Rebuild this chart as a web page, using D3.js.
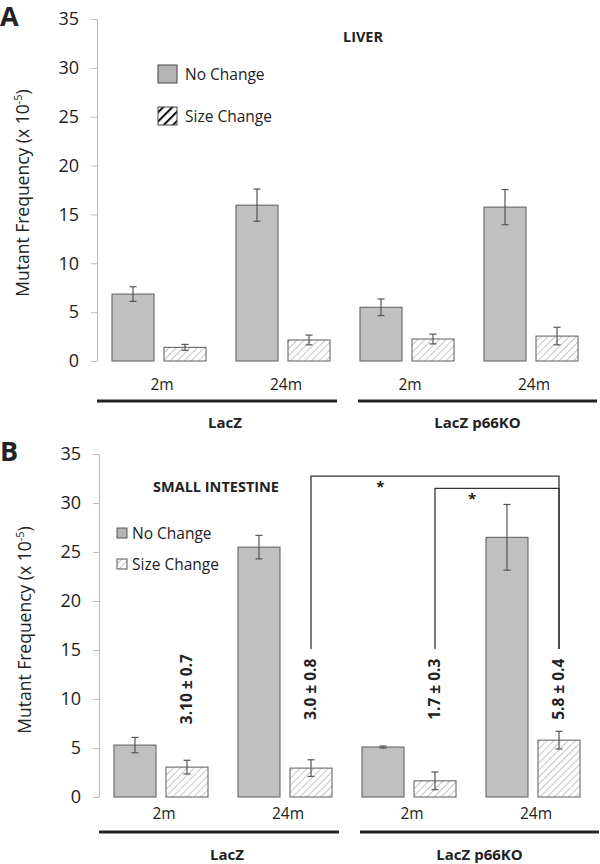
<!DOCTYPE html>
<html>
<head>
<meta charset="UTF-8">
<title>Mutant frequency</title>
<style>
  body { margin: 0; background: #fff; }
  text { font-family: "Open Sans", sans-serif; fill: #222; }
</style>
<script src="https://d3js.org/d3.v7.min.js"></script>
</head>
<body>
<script>
// ---- data ----
var groups = ["LacZ", "LacZ p66KO"];
var clusters = ["LacZ 2m", "LacZ 24m", "p66KO 2m", "p66KO 24m"];
var ages = ["2m", "24m", "2m", "24m"];
var series = ["No Change", "Size Change"];
var yTicks = [0, 5, 10, 15, 20, 25, 30, 35];

var liverNoChange = [6.85, 15.95, 5.5, 15.75];
var liverNoChangeErr = [0.75, 1.65, 0.85, 1.8];
var liverSizeChange = [1.4, 2.15, 2.25, 2.55];
var liverSizeChangeErr = [0.3, 0.5, 0.5, 0.9];

var intNoChange = [5.3, 25.5, 5.1, 26.5];
var intNoChangeErr = [0.78, 1.2, 0.1, 3.35];
var intSizeChange = [3.05, 2.95, 1.65, 5.8];
var intSizeChangeErr = [0.7, 0.85, 0.9, 0.9];
var intLabels = ["3.10 \u00b1 0.7", "3.0 \u00b1 0.8", "1.7 \u00b1 0.3", "5.8 \u00b1 0.4"];

// significance brackets: from cluster, to cluster, top value, foot value, star position along bracket
var brackets = [
  {from: 1, to: 3, top: 32.75, foot: 15.1, star: 0.28},
  {from: 2, to: 3, top: 31.5, foot: 15.1, star: 0.3}
];

var W = 600, H = 864;
var svg = d3.select("body").append("svg")
  .attr("width", W).attr("height", H);

var defs = svg.append("defs");
function hatch(id, color, width, gap) {
  var p = defs.append("pattern")
    .attr("id", id)
    .attr("patternUnits", "userSpaceOnUse")
    .attr("width", gap).attr("height", gap)
    .attr("patternTransform", "rotate(45)");
  p.append("rect").attr("width", gap).attr("height", gap).attr("fill", "#fff");
  p.append("line")
    .attr("x1", 0).attr("y1", 0).attr("x2", 0).attr("y2", gap)
    .attr("stroke", color).attr("stroke-width", width);
}
hatch("hatchLight", "#8a8a8a", 1, 5);
hatch("hatchBold", "#111", 4, 6.5);

function drawPanel(cfg) {
  var g = svg.append("g");
  var y = d3.scaleLinear().domain([0, 35]).range([cfg.y0, cfg.y35]);
  var outer = d3.scaleBand().domain(clusters).range([cfg.x0, cfg.x0 + 496]);
  var inner = d3.scaleBand().domain(series).range([0, outer.bandwidth()])
    .paddingInner(0.192).paddingOuter(0.288);

  // y axis
  var axis = g.append("g")
    .attr("transform", "translate(" + cfg.x0 + ",0)")
    .call(d3.axisLeft(y).tickValues(yTicks).tickSize(6).tickSizeOuter(0).tickPadding(12));
  axis.select(".domain").attr("stroke", "#bbb");
  axis.selectAll(".tick line").attr("stroke", "#bbb");
  axis.selectAll(".tick text").attr("font-size", 18).attr("font-family", "Open Sans").attr("fill", "#333");

  // axis title
  var t = g.append("text")
    .attr("transform", "translate(" + (cfg.x0 - 68) + "," + cfg.titleY + ") rotate(-90)")
    .attr("text-anchor", "middle")
    .attr("font-size", 17.5)
    .attr("fill", "#333");
  t.append("tspan").text("Mutant Frequency (x 10");
  t.append("tspan").attr("font-size", 11).attr("dy", -7).text("-5");
  t.append("tspan").attr("dy", 7).text(")");

  var rows = clusters.map(function (c, i) {
    return [
      {c: c, s: series[0], v: cfg.noChange[i], e: cfg.noChangeErr[i]},
      {c: c, s: series[1], v: cfg.sizeChange[i], e: cfg.sizeChangeErr[i]}
    ];
  });
  var flat = [].concat.apply([], rows);
  function bx(d) { return outer(d.c) + inner(d.s); }

  g.selectAll("rect.bar").data(flat).enter().append("rect")
    .attr("class", "bar")
    .attr("x", bx)
    .attr("y", function (d) { return y(d.v); })
    .attr("width", inner.bandwidth())
    .attr("height", function (d) { return y(0) - y(d.v); })
    .attr("fill", function (d) { return d.s === series[0] ? "#c0c0c0" : "url(#hatchLight)"; })
    .attr("stroke", "#5a5a5a").attr("stroke-width", 1);

  // error bars
  var eb = g.selectAll("g.err").data(flat).enter().append("g")
    .attr("class", "err")
    .attr("stroke", "#555").attr("stroke-width", 1.2);
  eb.append("line")
    .attr("x1", function (d) { return bx(d) + inner.bandwidth() / 2; })
    .attr("x2", function (d) { return bx(d) + inner.bandwidth() / 2; })
    .attr("y1", function (d) { return y(d.v + d.e); })
    .attr("y2", function (d) { return y(d.v - d.e); });
  [1, -1].forEach(function (sgn) {
    eb.append("line")
      .attr("x1", function (d) { return bx(d) + inner.bandwidth() / 2 - 3.5; })
      .attr("x2", function (d) { return bx(d) + inner.bandwidth() / 2 + 3.5; })
      .attr("y1", function (d) { return y(d.v + sgn * d.e); })
      .attr("y2", function (d) { return y(d.v + sgn * d.e); });
  });

  // category labels
  g.selectAll("text.age").data(clusters).enter().append("text")
    .attr("x", function (c) { return outer(c) + outer.bandwidth() / 2 + 3; })
    .attr("y", cfg.y0 + cfg.ageDy)
    .attr("text-anchor", "middle")
    .attr("font-size", 15.5)
    .text(function (c, i) { return ages[i]; });

  // group lines and labels
  groups.forEach(function (name, i) {
    var a = outer(clusters[i * 2]) + (i ? 13 : 0);
    var b = outer(clusters[i * 2 + 1]) + outer.bandwidth() + (i ? 4 : -8);
    g.append("line")
      .attr("x1", a).attr("x2", b)
      .attr("y1", cfg.y0 + cfg.lineDy).attr("y2", cfg.y0 + cfg.lineDy)
      .attr("stroke", "#222").attr("stroke-width", 3);
    g.append("text")
      .attr("x", (a + b) / 2 + (i ? 0 : 8))
      .attr("y", cfg.y0 + cfg.groupDy)
      .attr("text-anchor", "middle")
      .attr("font-size", 15).attr("font-weight", "bold")
      .text(name);
  });

  // panel letter and title
  g.append("text").attr("x", 0).attr("y", cfg.y35 + 7)
    .attr("font-size", 27).attr("font-weight", "bold").attr("fill", "#000")
    .text(cfg.letter);
  g.append("text").attr("x", cfg.titleX).attr("y", cfg.titleTextY)
    .attr("text-anchor", "middle")
    .attr("font-size", 14.5).attr("font-weight", "bold")
    .text(cfg.title);

  return {g: g, y: y, outer: outer, inner: inner};
}

// ---- panel A: liver ----
var A = drawPanel({
  letter: "A", title: "LIVER", titleX: 363, titleTextY: 42,
  x0: 97, y0: 361, y35: 19, titleY: 193,
  ageDy: 29, lineDy: 40, groupDy: 67,
  noChange: liverNoChange, noChangeErr: liverNoChangeErr,
  sizeChange: liverSizeChange, sizeChangeErr: liverSizeChangeErr
});
var legA = A.g.append("g").attr("transform", "translate(158,65)");
series.forEach(function (s, i) {
  legA.append("rect").attr("x", 0).attr("y", i * 42).attr("width", 19).attr("height", 18)
    .attr("fill", i ? "url(#hatchBold)" : "#b4b4b4")
    .attr("stroke", "#444").attr("stroke-width", 1);
  legA.append("text").attr("x", 27).attr("y", i * 42 + 14.5)
    .attr("font-size", 15.5).text(s);
});

// ---- panel B: small intestine ----
var B = drawPanel({
  letter: "B", title: "SMALL INTESTINE", titleX: 216, titleTextY: 492,
  x0: 99, y0: 797, y35: 454, titleY: 630,
  ageDy: 22, lineDy: 35, groupDy: 63,
  noChange: intNoChange, noChangeErr: intNoChangeErr,
  sizeChange: intSizeChange, sizeChangeErr: intSizeChangeErr
});
var legB = B.g.append("g").attr("transform", "translate(117,528)");
series.forEach(function (s, i) {
  legB.append("rect").attr("x", 0).attr("y", i * 31).attr("width", 10).attr("height", 10)
    .attr("fill", i ? "url(#hatchLight)" : "#b4b4b4")
    .attr("stroke", "#555").attr("stroke-width", 1);
  legB.append("text").attr("x", 15).attr("y", i * 31 + 10.5)
    .attr("font-size", 15.5).text(s);
});

function sizeX(i) { return B.outer(clusters[i]) + B.inner(series[1]) + B.inner.bandwidth() / 2; }

// rotated mean ± sd labels
B.g.selectAll("text.ann").data(intLabels).enter().append("text")
  .attr("transform", function (d, i) {
    return "translate(" + (sizeX(i) + 5) + "," + B.y(11) + ") rotate(-90)";
  })
  .attr("text-anchor", "middle")
  .attr("font-size", 15.5).attr("font-weight", "bold")
  .text(function (d) { return d; });

// significance brackets
brackets.forEach(function (br) {
  var a = sizeX(br.from), b = sizeX(br.to);
  B.g.append("path")
    .attr("d", "M" + a + "," + B.y(br.foot) + "V" + B.y(br.top) + "H" + b + "V" + B.y(br.foot))
    .attr("fill", "none").attr("stroke", "#333").attr("stroke-width", 1.3);
  B.g.append("text")
    .attr("x", a + (b - a) * br.star)
    .attr("y", B.y(br.top) + 16)
    .attr("text-anchor", "middle")
    .attr("font-size", 15).attr("font-weight", "bold")
    .text("*");
});
</script>
</body>
</html>
